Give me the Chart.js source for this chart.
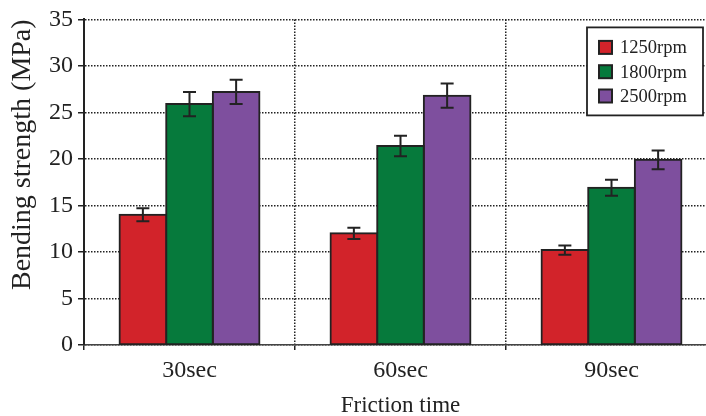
<!DOCTYPE html>
<html>
<head>
<meta charset="utf-8">
<script src="https://cdn.jsdelivr.net/npm/chart.js@4.4.1/dist/chart.umd.min.js"></script>
<style>
  html, body { margin: 0; padding: 0; background: #fff; overflow: hidden; }
  #wrap { width: 706px; height: 416px; overflow: hidden; }
</style>
</head>
<body>
<div id="wrap"><canvas id="chart" width="720" height="416"></canvas></div>
<script>
// Data
const categories = ['30sec', '60sec', '90sec'];
const seriesNames = ['1250rpm', '1800rpm', '2500rpm'];
const rpm1250 = [14.0, 12.0, 10.2];
const rpm1800 = [25.9, 21.4, 16.9];
const rpm2500 = [27.2, 26.8, 19.9];
const err1250 = [0.7, 0.6, 0.5];
const err1800 = [1.3, 1.1, 0.85];
const err2500 = [1.3, 1.3, 1.0];
const yTicks = [0, 5, 10, 15, 20, 25, 30, 35];

const colors = ['#d2232a', '#067a3c', '#7e4f9e'];
const ink = '#222';
const serif = 'Liberation Serif, Times New Roman, serif';

function makeDataset (i, values, errors) {
  return {
    label: seriesNames[i],
    data: values,
    errors: errors,
    backgroundColor: colors[i],
    borderColor: ink,
    borderWidth: 2,
    borderSkipped: false,
    inflateAmount: 1
  };
}

// Draw the +/- error bars on top of every bar
const errorBars = {
  id: 'errorBars',
  afterDatasetsDraw (chart) {
    const ctx = chart.ctx;
    const yScale = chart.scales.y;
    ctx.save();
    ctx.strokeStyle = ink;
    ctx.lineWidth = 2;
    chart.data.datasets.forEach((ds, i) => {
      chart.getDatasetMeta(i).data.forEach((bar, j) => {
        const top = yScale.getPixelForValue(ds.data[j] + ds.errors[j]);
        const bot = yScale.getPixelForValue(ds.data[j] - ds.errors[j]);
        const cap = 6.5;
        ctx.beginPath();
        ctx.moveTo(bar.x, top); ctx.lineTo(bar.x, bot);
        ctx.moveTo(bar.x - cap, top); ctx.lineTo(bar.x + cap, top);
        ctx.moveTo(bar.x - cap, bot); ctx.lineTo(bar.x + cap, bot);
        ctx.stroke();
      });
    });
    ctx.restore();
  }
};

// Boxed legend in the top right corner of the plot
const boxLegend = {
  id: 'boxLegend',
  afterDraw (chart) {
    const ctx = chart.ctx;
    const area = chart.chartArea;
    const w = 116, h = 88;
    const x = area.right - 130, y = area.top + 8;
    ctx.save();
    ctx.fillStyle = '#fff';
    ctx.fillRect(x, y, w, h);
    ctx.strokeStyle = ink;
    ctx.lineWidth = 1.8;
    ctx.strokeRect(x, y, w, h);
    ctx.font = '18.5px ' + serif;
    ctx.textBaseline = 'middle';
    chart.data.datasets.forEach((ds, i) => {
      const cy = y + 20 + i * 24.3;
      ctx.fillStyle = ds.backgroundColor;
      ctx.fillRect(x + 12, cy - 6.5, 13, 13);
      ctx.lineWidth = 2;
      ctx.strokeRect(x + 12, cy - 6.5, 13, 13);
      ctx.fillStyle = ink;
      ctx.fillText(ds.label, x + 33, cy + 1);
    });
    ctx.restore();
  }
};

const ctx = document.getElementById('chart').getContext('2d');
const chart = new Chart(ctx, {
  type: 'bar',
  data: {
    labels: categories,
    datasets: [
      makeDataset(0, rpm1250, err1250),
      makeDataset(1, rpm1800, err1800),
      makeDataset(2, rpm2500, err2500)
    ]
  },
  options: {
    responsive: false,
    animation: false,
    categoryPercentage: 0.663,
    barPercentage: 1,
    layout: { padding: { top: 18, right: 3, left: 0, bottom: 0 } },
    plugins: {
      legend: { display: false },
      tooltip: { enabled: false }
    },
    scales: {
      x: {
        afterFit: (scale) => { scale.height = 71; },
        grid: {
          offset: true,
          color: ink,
          lineWidth: 1.5,
          tickLength: 5,
          tickColor: ink
        },
        border: { color: '#444', width: 1.5, dash: [1.5, 1.5] },
        ticks: { color: ink, padding: 6, font: { family: serif, size: 24 } },
        title: {
          display: true,
          text: 'Friction time',
          color: ink,
          font: { family: serif, size: 23 },
          padding: { top: 0, bottom: -4 }
        }
      },
      y: {
        min: 0,
        max: 35,
        afterFit: (scale) => { scale.width = 84; },
        afterBuildTicks: (scale) => { scale.ticks = yTicks.map(v => ({ value: v })); },
        grid: {
          color: ink,
          lineWidth: 1.5,
          tickLength: 6,
          tickColor: ink
        },
        border: { color: ink, width: 2, dash: [1.5, 1.5] },
        ticks: { color: ink, padding: 5, font: { family: serif, size: 24 } },
        title: {
          display: true,
          text: 'Bending strength (MPa)',
          align: 'end',
          color: ink,
          font: { family: serif, size: 28 },
          padding: { top: 6, bottom: 0 }
        }
      }
    }
  },
  plugins: [errorBars, boxLegend]
});
</script>
</body>
</html>
